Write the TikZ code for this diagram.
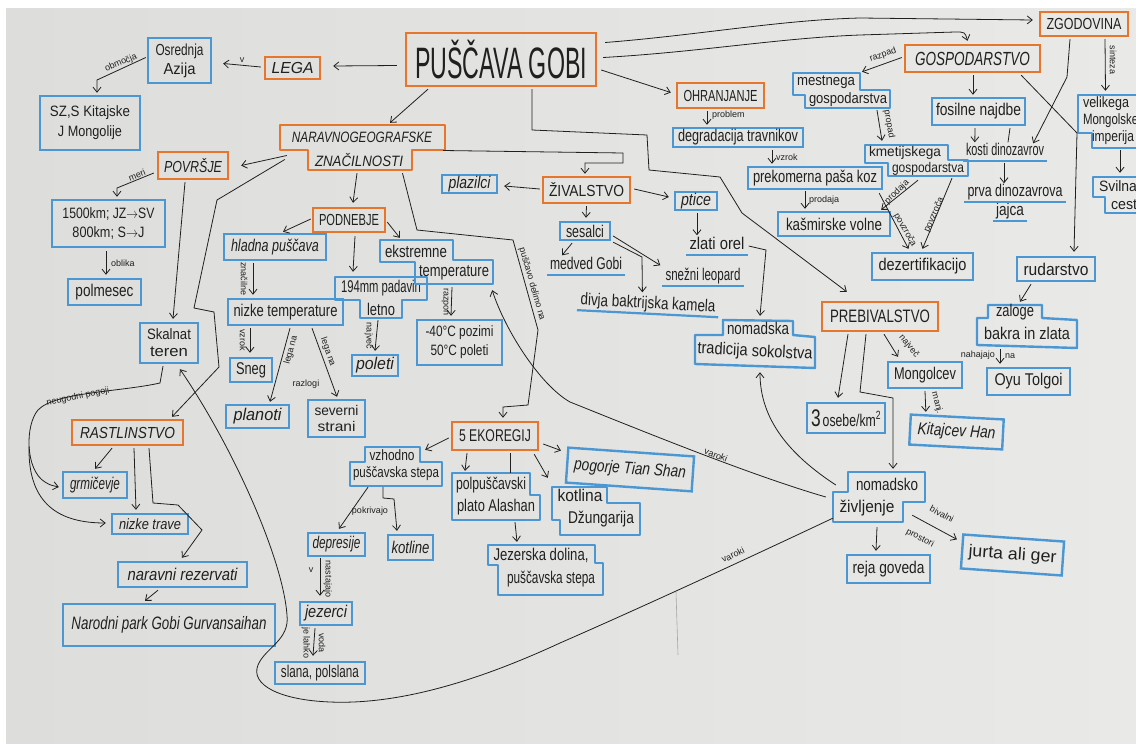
\documentclass[tikz,border=0pt]{standalone}
\usepackage{fontspec}
\setmainfont{Liberation Sans}
\usepackage{graphicx}
\usetikzlibrary{arrows.meta,calc}
\newcommand{\fw}[2]{\resizebox{#1pt}{\height}{#2}}
\definecolor{org}{HTML}{E5762C}
\definecolor{blu}{HTML}{4A97D4}
\definecolor{ink}{HTML}{202020}
\definecolor{paper}{HTML}{DDDEDB}
\definecolor{paperl}{HTML}{E9E9E7}
\tikzset{
 every node/.style={text=ink, inner sep=0pt},
 ob/.style={draw=org, line width=2.4pt, rectangle, align=center, font=\fontsize{16}{18}\selectfont},
 bb/.style={draw=blu, line width=2.4pt, rectangle, align=center, font=\fontsize{17}{19}\selectfont},
 bi/.style={bb, font=\fontsize{17}{19}\selectfont\itshape},
 hid/.style={rectangle},
 obp/.style={draw=org, line width=2.4pt, line join=round},
 bbp/.style={draw=blu, line width=2.4pt, line join=round},
 tx/.style={font=\fontsize{17}{19}\selectfont},
 txs/.style={font=\fontsize{15}{17}\selectfont},
 ut/.style={font=\fontsize{17}{19}\selectfont, text height=12pt, text depth=3pt},
 ulin/.style={draw=blu, line width=2.2pt},
 ar/.style={draw=ink, line width=0.8pt, -{Straight Barb[length=5pt,width=8pt]}},
 ln/.style={draw=ink, line width=0.8pt},
 lb/.style={font=\fontsize{9}{10}\selectfont},
}
\begin{document}
\begin{tikzpicture}[x=1pt,y=-1pt]
\useasboundingbox (0,0) rectangle (1136,744);
\fill[white] (0,0) rectangle (1136,744);
\shade[left color=paper, right color=paperl] (6,8) rectangle (1136,744);

% ---------------- orange headings
\node[ob, minimum width=190pt, minimum height=53pt, font=\fontsize{44}{44}\selectfont] (gobi) at (501,59.5) {\fw{172}{PUŠČAVA GOBI}};
\node[ob, minimum width=55pt, minimum height=22pt, font=\fontsize{16}{16}\selectfont\itshape] (lega) at (292.5,68) {\fw{42}{LEGA}};
\node[hid, minimum width=165pt, minimum height=45pt] (narav) at (362.5,147.5) {};
\draw[obp] (280,125) -- (445,125) -- (445,150) -- (412,150) -- (412,170) -- (308,170) -- (308,150) -- (280,150) -- cycle;
\node[font=\fontsize{15}{15}\selectfont\itshape] (narav1) at (362,137.5) {\fw{140}{NARAVNOGEOGRAFSKE}};
\node[font=\fontsize{15}{15}\selectfont\itshape] (narav2) at (359,160.5) {\fw{88}{ZNAČILNOSTI}};
\node[ob, minimum width=70pt, minimum height=27pt, font=\fontsize{16}{16}\selectfont\itshape] (povrsje) at (193,165.5) {\fw{58}{POVRŠJE}};
\node[ob, minimum width=111pt, minimum height=25pt, font=\fontsize{16}{16}\selectfont\itshape] (rastl) at (127.5,432.5) {\fw{95}{RASTLINSTVO}};
\node[ob, minimum width=72pt, minimum height=24pt] (podnebje) at (349,220) {\fw{60}{PODNEBJE}};
\node[ob, minimum width=87pt, minimum height=26pt] (zival) at (586.5,190) {\fw{75}{ŽIVALSTVO}};
\node[ob, minimum width=87pt, minimum height=25pt] (ohran) at (720.5,95.5) {\fw{74}{OHRANJANJE}};
\node[ob, minimum width=86pt, minimum height=28pt, font=\fontsize{17}{17}\selectfont] (ekoreg) at (495,436) {\fw{72}{5 EKOREGIJ}};
\node[ob, minimum width=116pt, minimum height=29pt, font=\fontsize{18}{18}\selectfont] (prebiv) at (880,316.5) {\fw{100}{PREBIVALSTVO}};
\node[ob, minimum width=135pt, minimum height=27pt, font=\fontsize{19}{19}\selectfont\itshape] (gosp) at (972.5,58.5) {\fw{115}{GOSPODARSTVO}};
\node[ob, minimum width=88pt, minimum height=24pt, font=\fontsize{16}{16}\selectfont] (zgod) at (1084,24) {\fw{75}{ZGODOVINA}};

% ---------------- blue boxes (left part)
\node[bb, minimum width=63pt, minimum height=45pt, font=\fontsize{16}{19}\selectfont] (osred) at (179.5,60.5) {\fw{48}{Osrednja}\\\fw{32}{Azija}};
\node[bb, minimum width=100pt, minimum height=54pt, font=\fontsize{15}{20}\selectfont] (szs) at (90,123) {\fw{80}{SZ,S Kitajske}\\\fw{64}{J Mongolije}};
\node[bb, minimum width=113pt, minimum height=47pt, font=\fontsize{15}{19}\selectfont] (km) at (108.5,223.5) {\fw{92}{1500km; JZ$\to$SV}\\\fw{72}{800km; S$\to$J}};
\node[bb, minimum width=73pt, minimum height=26pt] (polmesec) at (104.5,292) {\fw{58}{polmesec}};
\node[bb, minimum width=58pt, minimum height=40pt, font=\fontsize{15}{17}\selectfont] (skalnat) at (169,343) {\fw{44}{Skalnat}\\\fw{38}{teren}};
\node[bi, minimum width=64pt, minimum height=26pt] (grmic) at (95,485) {\fw{50}{grmičevje}};
\node[bi, minimum width=76pt, minimum height=20pt, font=\fontsize{15}{17}\selectfont\itshape] (nizketrave) at (150,524) {\fw{62}{nizke trave}};
\node[bi, minimum width=129pt, minimum height=25pt] (narrez) at (182.5,574.5) {\fw{110}{naravni rezervati}};
\node[bi, minimum width=212pt, minimum height=42pt, font=\fontsize{18}{19}\selectfont\itshape] (narpark) at (169,625) {\fw{195}{Narodni park Gobi Gurvansaihan}};

% climate
\node[bi, minimum width=102pt, minimum height=26pt] (hladna) at (275,247) {\fw{88}{hladna puščava}};
\node[bb, minimum width=115pt, minimum height=26pt] (nizketemp) at (285.5,312) {\fw{104}{nizke temperature}};
\node[bb, minimum width=42pt, minimum height=24pt] (sneg) at (251,370) {\fw{30}{Sneg}};
\node[bi, minimum width=63pt, minimum height=23pt] (planoti) at (257.5,416.5) {\fw{48}{planoti}};
\node[bb, minimum width=57pt, minimum height=37pt, font=\fontsize{14}{16}\selectfont] (severni) at (336.5,418.5) {\fw{44}{severni}\\\fw{38}{strani}};
\node[hid, minimum width=92pt, minimum height=41pt] (padavin) at (381,297.5) {};
\draw[bbp] (335,277) -- (427,277) -- (427,300) -- (402,300) -- (402,318) -- (360,318) -- (360,300) -- (335,300) -- cycle;
\node[tx] (padavin1) at (381,288) {\fw{80}{194mm padavin}};
\node[tx] (padavin2) at (381,309) {\fw{28}{letno}};
\node[bi, minimum width=46pt, minimum height=21pt] (poleti) at (375,365.5) {\fw{38}{poleti}};
\node[hid, minimum width=113pt, minimum height=44pt] (ekstr) at (436.5,262) {};
\draw[bbp] (380,240) -- (453,240) -- (453,260) -- (493,260) -- (493,284) -- (415,284) -- (415,262) -- (380,262) -- cycle;
\node[tx] (ekstr1) at (416,251) {\fw{62}{ekstremne}};
\node[tx] (ekstr2) at (454,273) {\fw{70}{temperature}};
\node[bb, minimum width=85pt, minimum height=45pt, font=\fontsize{15}{19}\selectfont] (minus) at (459.5,342.5) {\fw{68}{-40°C pozimi}\\\fw{58}{50°C poleti}};

% ecoregions
\node[hid, minimum width=92pt, minimum height=39pt] (vzhodno) at (396,466.5) {};
\draw[bbp] (365,447) -- (420,447) -- (420,462) -- (442,462) -- (442,486) -- (350,486) -- (350,462) -- (365,462) -- cycle;
\node[txs] (vzhodno1) at (392,455) {\fw{45}{vzhodno}};
\node[txs] (vzhodno2) at (396,474) {\fw{86}{puščavska stepa}};
\node[bi, minimum width=57pt, minimum height=23pt] (depresije) at (336.5,544.5) {\fw{48}{depresije}};
\node[bi, minimum width=45pt, minimum height=25pt] (kotline) at (410.5,547.5) {\fw{38}{kotline}};
\node[bi, minimum width=52pt, minimum height=23pt] (jezerci) at (326,613.5) {\fw{42}{jezerci}};
\node[bb, minimum width=90pt, minimum height=22pt] (slana) at (320,673) {\fw{78}{slana, polslana}};
\node[hid, minimum width=88pt, minimum height=47pt] (polpusc) at (496,496.5) {};
\draw[bbp] (452,473) -- (530,473) -- (530,495) -- (540,495) -- (540,520) -- (452,520) -- cycle;
\node[tx] (polpusc1) at (491,485) {\fw{70}{polpuščavski}};
\node[tx] (polpusc2) at (496,507) {\fw{78}{plato Alashan}};
\node[hid, minimum width=115pt, minimum height=50pt] (jezerska) at (545.5,570) {};
\draw[bbp] (488,545) -- (595,545) -- (595,563) -- (603,563) -- (603,595) -- (498,595) -- (498,565) -- (488,565) -- cycle;
\node[tx] (jezerska1) at (541,555) {\fw{95}{Jezerska dolina,}};
\node[tx] (jezerska2) at (551,579) {\fw{88}{puščavska stepa}};
\node[hid, minimum width=88pt, minimum height=48pt] (kotlina) at (596,511) {};
\draw[bbp] (552,487) -- (607,487) -- (607,503) -- (640,503) -- (640,535) -- (560,535) -- (560,520) -- (552,520) -- cycle;
\node[tx] (kotlina1) at (580,495) {\fw{45}{kotlina}};
\node[tx] (kotlina2) at (601,519) {\fw{66}{Džungarija}};
\node[bi, minimum width=126pt, minimum height=35pt, rotate=-4] (pogorje) at (630,469.5) {\fw{112}{pogorje Tian Shan}};

% animals
\node[bi, minimum width=55pt, minimum height=18pt] (plazilci) at (469.5,184) {\fw{42}{plazilci}};
\node[bi, minimum width=42pt, minimum height=18pt] (ptice) at (696,201) {\fw{30}{ptice}};
\node[bb, minimum width=50pt, minimum height=18pt] (sesalci) at (585,231) {\fw{38}{sesalci}};
\node[ut] (zlati) at (717,245) {\fw{55}{zlati orel}};
\node[ut] (medved) at (586,265) {\fw{72}{medved Gobi}};
\node[ut] (snezni) at (703,276) {\fw{75}{snežni leopard}};
\node[ut, rotate=-3] (kamela) at (648,304) {\fw{135}{divja baktrijska kamela}};
\draw[ulin] ($(zlati.south west)+(-3,2)$) -- ($(zlati.south east)+(3,2)$);
\draw[ulin] ($(medved.south west)+(-3,2)$) -- ($(medved.south east)+(3,2)$);
\draw[ulin] ($(snezni.south west)+(-3,2)$) -- ($(snezni.south east)+(3,2)$);
\draw[ulin] ($(kamela.south west)+(-3,2)$) -- ($(kamela.south east)+(3,2)$);
\node[hid, minimum width=120pt, minimum height=48pt] (nomtrad) at (755,344) {};
\draw[bbp] (723,320) -- (793,321) -- (793,335) -- (815,337) -- (815,368) -- (695,364) -- (695,335) -- (723,335) -- cycle;
\node[tx] (nomtrad1) at (758,328) {\fw{62}{nomadska}};
\node[tx, rotate=-3] (nomtrad2) at (755,352) {\fw{115}{tradicija sokolstva}};

% conservation / economy
\node[bb, minimum width=130pt, minimum height=19pt] (degr) at (738,137.5) {\fw{120}{degradacija travnikov}};
\node[bb, minimum width=134pt, minimum height=22pt] (prekom) at (815,178) {\fw{124}{prekomerna paša koz}};
\node[bb, minimum width=112pt, minimum height=24pt] (kasmir) at (834,224) {\fw{96}{kašmirske volne}};
\node[hid, minimum width=97pt, minimum height=35pt] (mestnega) at (841.5,90.5) {};
\draw[bbp] (793,73) -- (860,73) -- (860,90) -- (890,90) -- (890,108) -- (805,108) -- (805,95) -- (793,95) -- cycle;
\node[txs] (mestnega1) at (826,82) {\fw{58}{mestnega}};
\node[txs] (mestnega2) at (848,100) {\fw{78}{gospodarstva}};
\node[hid, minimum width=103pt, minimum height=31pt] (kmet) at (916.5,160.5) {};
\draw[bbp] (865,145) -- (948,145) -- (948,160) -- (968,160) -- (968,176) -- (888,176) -- (888,163) -- (865,163) -- cycle;
\node[font=\fontsize{14}{16}\selectfont] (kmet1) at (905,153) {\fw{72}{kmetijskega}};
\node[font=\fontsize{14}{16}\selectfont] (kmet2) at (928,169) {\fw{72}{gospodarstva}};
\node[bb, minimum width=101pt, minimum height=27pt] (dezert) at (922.5,266.5) {\fw{88}{dezertifikacijo}};
\node[bb, minimum width=93pt, minimum height=27pt] (fosil) at (978.5,111.5) {\fw{85}{fosilne najdbe}};
\node[ut] (kosti) at (1005,151) {\fw{78}{kosti dinozavrov}};
\node[ut] (prva) at (1015,192) {\fw{95}{prva dinozavrova}};
\node[ut] (jajca) at (1010,211) {\fw{28}{jajca}};
\draw[ulin] ($(kosti.south west)+(-3,2)$) -- ($(kosti.south east)+(3,2)$);
\draw[ulin] ($(prva.south west)+(-3,2)$) -- ($(prva.south east)+(3,2)$);
\draw[ulin] ($(jajca.south west)+(-3,2)$) -- ($(jajca.south east)+(3,2)$);
\node[hid, minimum width=67pt, minimum height=53pt] (velik) at (1111.5,121.5) {};
\draw[bbp] (1078,95) -- (1145,95) -- (1145,148) -- (1092,148) -- (1092,133) -- (1078,133) -- cycle;
\node[txs] (velik1) at (1106,104) {\fw{46}{velikega}};
\node[txs] (velik2) at (1117,121) {\fw{68}{Mongolskega}};
\node[txs] (velik3) at (1113,138) {\fw{42}{imperija}};
\node[hid, minimum width=52pt, minimum height=36pt] (svilna) at (1119,195) {};
\draw[bbp] (1093,177) -- (1145,177) -- (1145,213) -- (1105,213) -- (1105,197) -- (1093,197) -- cycle;
\node[txs] (svilna1) at (1118,186) {\fw{38}{Svilna}};
\node[txs] (svilna2) at (1128,205) {\fw{34}{cesta}};
\node[bb, minimum width=78pt, minimum height=24pt] (rudar) at (1056,269) {\fw{65}{rudarstvo}};
\node[hid, minimum width=100pt, minimum height=43pt] (zaloge) at (1027,326.5) {};
\draw[bbp] (988,305) -- (1042,305) -- (1042,318) -- (1077,320) -- (1077,348) -- (977,345) -- (977,318) -- (988,318) -- cycle;
\node[tx] (zaloge1) at (1015,312) {\fw{38}{zaloge}};
\node[tx] (zaloge2) at (1027,333) {\fw{86}{bakra in zlata}};
\node[bb, minimum width=83pt, minimum height=27pt] (oyu) at (1028.5,381.5) {\fw{68}{Oyu Tolgoi}};

% population
\node[bb, minimum width=78pt, minimum height=30pt] (pers) at (846,418) {\fw{70}{{\fontsize{24}{24}\selectfont 3}\,osebe/km\textsuperscript{2}}};
\node[bb, minimum width=74pt, minimum height=26pt] (mongol) at (925,375) {\fw{62}{Mongolcev}};
\node[bi, minimum width=93pt, minimum height=30pt, rotate=-3] (kitaj) at (956.5,432) {\fw{78}{Kitajcev Han}};
\node[hid, minimum width=92pt, minimum height=50pt] (nomziv) at (879,497) {};
\draw[bbp] (848,472) -- (925,472) -- (925,502) -- (903,502) -- (903,522) -- (833,522) -- (833,492) -- (848,492) -- cycle;
\node[tx] (nomziv1) at (887,484) {\fw{62}{nomadsko}};
\node[tx] (nomziv2) at (867,508) {\fw{55}{življenje}};
\node[bb, minimum width=83pt, minimum height=28pt] (reja) at (888.5,569) {\fw{72}{reja goveda}};
\node[bb, minimum width=101pt, minimum height=34pt, rotate=-4] (jurta) at (1012.5,555) {\fw{88}{jurta ali ger}};

% ---------------- connectors
\draw[ar] ($(gobi.west)+(-8,6)$) -- ($(lega.east)+(12,-2)$);
\draw[ar] ($(lega.west)+(-3,-1)$) -- node[lb, above=2pt]{v} ($(osred.east)+(11,3)$);
\draw[ar] ($(osred.west)+(-1,-3)$) -- (97,80) -- ($(szs.north)+(7,-2)$);
\node[lb, rotate=23] (l1) at (121,63) {območja};
\draw[ar] ($(gobi.south)+(-73,2)$) -- ($(narav.north)+(27.5,-2)$);
\draw[ar] ($(narav.west)+(7,8)$) -- ($(povrsje.east)+(12,0)$);
\draw[ar] ($(narav.west)+(5,12)$) -- (217,200) -- (194,308) -- (214,312) -- (219,367) -- ($(rastl.north)+(44.5,-2)$);
\draw[ar] ($(povrsje.west)+(-3,7.5)$) -- (117,188) -- ($(km.north)+(8.5,-2)$);
\node[lb, rotate=22] (l2) at (137,175) {meri};
\draw[ar] ($(km.south)+(-2.5,3)$) -- ($(polmesec.north)+(1.5,-3)$);
\node[lb, anchor=west] (l3) at (111,263) {oblika};
\draw[ar] ($(povrsje.south)+(-8,2)$) -- ($(skalnat.north)+(4,-3)$);
\draw[ar] ($(skalnat.south)+(-6,2)$) -- (160,383) .. controls (120,392) and (55,392) .. (38,410) .. controls (25,425) and (25,470) .. (45,482) .. controls (50,485) .. ($(grmic.west)+(-3,2)$);
\draw[ar] (29,447) .. controls (28,505) and (60,523) .. ($(nizketrave.west)+(-5,-1)$);
\node[lb, rotate=11] (l4) at (78,397) {neugodni pogoji};
\draw[ar] ($(rastl.south)+(-15.5,2)$) -- ($(grmic.north)+(0,-2)$);
\draw[ar] ($(rastl.south)+(6.5,2)$) -- ($(nizketrave.north)+(-14,-3)$);
\draw[ar] ($(rastl.south)+(21.5,2)$) -- (153,503) -- (178,505) -- (202,530) -- ($(narrez.north)+(-0.5,-3)$);
\draw[ar] ($(narrez.south)+(-24.5,2)$) -- ($(narpark.north)+(-24,-2)$);
% big loop
\draw[ar] ($(nomziv.south west)+(0,-4)$) .. controls (740,562) and (640,608) .. (560,643) .. controls (480,680) and (400,705) .. (330,702) .. controls (280,700) and (250,685) .. (258,665) .. controls (265,648) and (290,640) .. (287,615) .. controls (283,560) and (235,450) .. ($(skalnat.south)+(11,5)$);
\node[lb, rotate=25] (l5) at (733,555) {varoki};
\draw[gray!70, line width=0.6pt] (676,592) -- (678,655);
\draw[ar] ($(nomziv.west)+(-7,0)$) .. controls (750,475) and (640,430) .. (570,402) .. controls (540,385) and (505,330) .. ($(ekstr.south east)+(-1,6)$);
\node[lb, rotate=-21] (l6) at (716,455) {varoki};
\draw[ar] ($(nomziv.west)+(3,-12)$) .. controls (790,455) and (760,420) .. ($(nomtrad.south)+(5,4)$);
% top right
\draw[ar] ($(gobi.east)+(8,-17)$) .. controls (700,35) and (780,20) .. (860,18) -- ($(zgod.west)+(-6,-4)$);
\draw[ar] ($(gobi.east)+(6,-2)$) .. controls (700,52) and (780,38) .. (860,35) -- (955,32) .. controls (965,32) .. ($(gosp.north)+(-5,-3)$);
\draw[ar] ($(gobi.east)+(4,10.5)$) -- ($(ohran.west)+(-5,-3)$);
\draw[ar] ($(ohran.south)+(-13.5,2)$) -- ($(degr.north)+(-31,-2)$);
\node[lb, anchor=west] (l7) at (712,115) {problem};
\draw[ar] ($(degr.south)+(34,2)$) -- ($(prekom.north)+(-43,-2)$);
\node[lb, anchor=west] (l8) at (776,157) {vzrok};
\draw[ar] ($(prekom.south)+(-10,1)$) -- ($(kasmir.north)+(-29,-2)$);
\node[lb, anchor=west] (l9) at (809,200) {prodaja};
\draw[ar] ($(gosp.west)+(-2,-1)$) -- ($(mestnega.north)+(20.5,-1)$);
\node[lb, rotate=20] (l10) at (883,55) {razpad};
\draw[ar] ($(mestnega.south)+(35.5,2)$) -- ($(kmet.north)+(-34.5,-4)$);
\node[lb, rotate=-80] (l11) at (889,124) {propad};
\draw[ar] ($(kmet.south)+(1.5,4)$) -- ($(kasmir.north east)+(-10,-1)$);
\node[lb, rotate=44] (l12) at (897,192) {prodaja};
\draw[ar] ($(prekom.south east)+(-4,3)$) -- ($(dezert.north)+(-14,-3)$);
\node[lb, rotate=-60] (l13) at (905,230) {povzroča};
\draw[ar] ($(kmet.south)+(35.5,2)$) -- ($(dezert.north)+(0,-3)$);
\node[lb, rotate=66] (l14) at (934,215) {povzroča};
\draw[ar] ($(gosp.south)+(0.5,2)$) -- ($(fosil.north)+(-5.5,-2)$);
\draw[ar] ($(fosil.south)+(-3.5,2)$) -- ($(kosti.north west)+(9,-1)$);
\draw[ln] ($(fosil.south)+(31.5,2)$) -- ($(kosti.north)+(3,-1)$);
\draw[ar] ($(kosti.south)+(-1,4)$) -- ($(prva.north)+(-11,-1)$);
\draw[ar] ($(zgod.south)+(-14,2)$) -- (1067,77) -- ($(kosti.north east)+(-11,0)$);
\draw[ar] ($(zgod.south)+(21,2)$) -- ($(velik.north)+(-6,-4)$);
\node[lb, rotate=-90] (l15) at (1113,60) {sinteza};
\draw[ar] ($(velik.south)+(8.5,2)$) -- ($(svilna.north)+(1,-4)$);
\draw[ar] ($(gosp.south east)+(-20,2)$) -- (1077,133) -- ($(rudar.north)+(18,-4)$);
\draw[ar] ($(rudar.south)+(-25,2)$) -- ($(zaloge.north)+(-7,-3)$);
\draw[ar] ($(zaloge.south)+(-27,1)$) -- ($(oyu.north)+(-28.5,-3)$);
\node[lb, anchor=east] (l16) at (995,355) {nahajajo};
\node[lb, anchor=west] (l17) at (1005,356) {na};
% population connectors
\draw[ar] ($(gobi.south)+(31,2)$) -- (532,130) -- (647,135) -- (649,170) -- (720,177) -- (742,213) -- ($(prebiv.north west)+(26,-9)$);
\draw[ar] ($(prebiv.south)+(-32,2)$) -- ($(pers.north)+(-8,-4)$);
\draw[ar] ($(prebiv.south)+(4,2)$) -- ($(mongol.north)+(-27,-4)$);
\node[lb, rotate=-50] (l18) at (909,346) {največ};
\draw[ar] ($(prebiv.south)+(-14,2)$) -- (860,392) -- (893,398) -- ($(nomziv.north)+(14,-3)$);
\draw[ar] ($(mongol.south)+(0,2)$) -- ($(kitaj.north)+(-31.5,-4)$);
\node[lb, rotate=-75] (l19) at (937,403) {manj.};
\draw[ar] ($(nomziv.south)+(-2,5)$) -- ($(reja.north)+(-12.5,-3)$);
\draw[ar] ($(nomziv.south east)+(-13,-7)$) -- ($(jurta.west)+(-4,-12)$);
\node[lb, rotate=-28] (l20) at (942,514) {bivalni};
\node[lb, rotate=-28] (l21) at (920,538) {prostori};
% animals connectors
\draw[ar] ($(narav.east)+(-2,3)$) -- (623,153) -- (623,163) -- (585,163) -- ($(zival.north)+(-1.5,-2)$);
\draw[ar] ($(zival.west)+(-2,-1)$) -- ($(plazilci.east)+(6,2)$);
\draw[ar] ($(zival.east)+(3,-1)$) -- ($(ptice.west)+(-5,-4)$);
\draw[ar] ($(zival.south)+(0,2)$) -- ($(sesalci.north)+(1,-3)$);
\draw[ar] ($(ptice.south)+(1,2)$) -- ($(zlati.north)+(-20,-2)$);
\draw[ar] ($(sesalci.south)+(-13,2)$) -- ($(medved.north)+(-24,-2)$);
\draw[ar] ($(sesalci.east)+(2,5)$) -- ($(snezni.north west)+(-5,-3)$);
\draw[ar] ($(sesalci.south east)+(2,1)$) -- (642,257) -- ($(kamela.north)+(-6,-4)$);
\draw[ar] ($(zlati.east)+(4,1)$) -- (766,250) -- ($(nomtrad.north)+(5,-4)$);
% climate connectors
\draw[ar] ($(narav.south)+(-5.5,3)$) -- ($(podnebje.north)+(4,-4)$);
\draw[ar] ($(podnebje.west)+(-1,-1)$) -- ($(hladna.north)+(8,-1)$);
\draw[ar] ($(podnebje.south)+(6,3)$) -- ($(padavin.north)+(-28,-5)$);
\draw[ar] ($(podnebje.east)+(1,2)$) -- ($(ekstr.north west)+(20,-2)$);
\draw[ar] ($(hladna.south)+(-22,2)$) -- ($(nizketemp.north)+(-32.5,-3)$);
\node[lb, rotate=-90] (l22) at (244,279) {značilne};
\draw[ar] ($(nizketemp.south)+(-35.5,2)$) -- ($(sneg.north)+(-1,-4)$);
\node[lb, rotate=-90] (l23) at (243,340) {vzrok};
\draw[ar] ($(nizketemp.south)+(4.5,2)$) -- ($(planoti.north)+(12.5,-2)$);
\node[lb, rotate=75] (l24) at (291,350) {lega na};
\draw[ar] ($(nizketemp.south)+(26.5,2)$) -- ($(severni.north)+(0.5,-2)$);
\node[lb, rotate=-71] (l25) at (328,352) {lega na};
\node[lb] (l26) at (306,384) {razlogi};
\draw[ar] ($(padavin.south)+(-3,2)$) -- ($(poleti.north)+(0,-3)$);
\node[lb, rotate=-90] (l27) at (369,336) {največ};
\draw[ar] ($(ekstr.south)+(15.5,3)$) -- ($(minus.north)+(-8.5,-3)$);
\node[lb, rotate=-90] (l28) at (445,302) {razpon};
% ecoregion connectors
\draw[ar] ($(narav.south)+(40,3)$) -- (417,230) -- (513,240) -- (538,330) -- (528,405) -- (503,407) -- ($(ekoreg.north)+(8,-3)$);
\node[lb, rotate=-74] (l29) at (532,284) {puščavo delimo na};
\draw[ar] ($(ekoreg.west)+(-2,2)$) -- ($(vzhodno.north east)+(-17,3)$);
\draw[ar] ($(vzhodno.south)+(-28,1)$) -- ($(depresije.north)+(2.5,-3)$);
\draw[ar] ($(vzhodno.south)+(-13,1)$) -- (383,498) -- (394,499) -- ($(kotline.north)+(-13.5,-3)$);
\node[lb] (l30) at (370,511) {pokrivajo};
\draw[ar] ($(depresije.south)+(-16.5,1)$) -- ($(jezerci.north)+(-6,-5)$);
\node[lb] (l31) at (311,570) {v};
\node[lb, rotate=-90] (l32) at (328,579) {nastajajo};
\draw[ar] ($(jezerci.south)+(-11,2)$) -- ($(slana.north)+(-7,-5)$);
\node[lb, rotate=-90] (l33) at (306,643) {je lahko};
\node[lb, rotate=-90] (l34) at (322,643) {voda};
\draw[ar] ($(ekoreg.south)+(-28,2)$) -- ($(polpusc.north)+(-31,-2)$);
\draw[ln] ($(ekoreg.south)+(15,2)$) -- ($(polpusc.north)+(14,0)$);
\draw[ar] ($(polpusc.south)+(19,2)$) -- ($(jezerska.north)+(-28.5,-3)$);
\draw[ar] ($(ekoreg.south east)+(-5,3)$) -- ($(kotlina.north west)+(-4,-9)$);
\draw[ar] ($(ekoreg.east)+(4,8)$) -- ($(pogorje.west)+(-5,-14.5)$);
\end{tikzpicture}
\end{document}
